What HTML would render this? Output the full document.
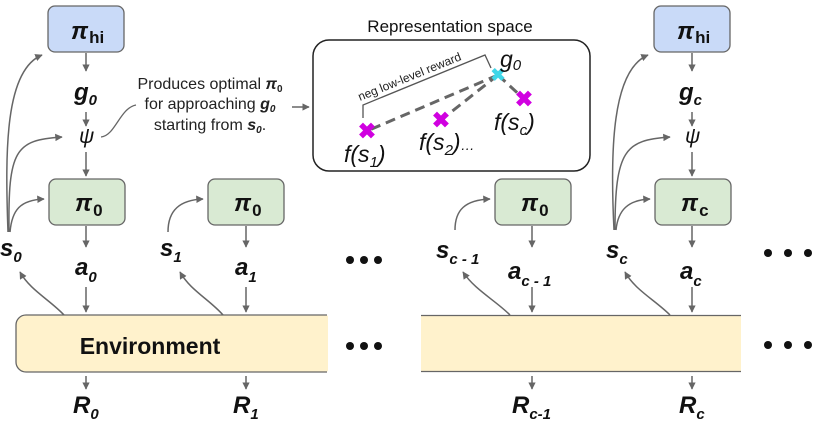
<!DOCTYPE html>
<html><head><meta charset="utf-8"><style>
body{margin:0;background:#fff;width:822px;height:431px;overflow:hidden}
svg{display:block}
text{font-family:"Liberation Sans",sans-serif}
.b{font-weight:bold;font-style:italic;font-size:24px;fill:#111}
.s{font-weight:bold;font-style:italic;font-size:15px;fill:#111}
</style></head><body>
<svg width="822" height="431" viewBox="0 0 822 431">
<defs><marker id="a" viewBox="0 0 10 10" refX="9" refY="5" markerWidth="5" markerHeight="5" orient="auto"><path d="M0,0L10,5L0,10z" fill="#666"/></marker></defs>
<g stroke="#666" stroke-width="1.5" fill="none" marker-end="url(#a)">
<path d="M86,53V71"/><path d="M86,112V126"/><path d="M86,152V176"/><path d="M86,226V247"/><path d="M86,287V312"/><path d="M86,376V389"/>
<path d="M8,232C5,150 5,70 42,55"/><path d="M9,232C8,150 15,140 62,137"/><path d="M10,232C12,210 20,200 44,199"/>
<path d="M64,315C50,300 30,290 20,272"/>
<path d="M246,226V247"/><path d="M246,287V312"/><path d="M246,376V389"/>
<path d="M168,232C168,210 180,200 203,199"/><path d="M223,315C210,300 190,290 180,272"/>
<path d="M532,226V247"/><path d="M532,287V312"/><path d="M532,376V389"/>
<path d="M455,230C455,210 465,200 490,199"/><path d="M510,315C495,300 475,290 463,272"/>
<path d="M692,53V71"/><path d="M692,112V126"/><path d="M692,152V176"/><path d="M692,226V247"/><path d="M692,287V312"/><path d="M692,376V389"/>
<path d="M614,230C610,150 612,70 648,55"/><path d="M615,230C615,150 625,140 670,137"/><path d="M616,230C618,210 628,200 650,199"/>
<path d="M670,315C655,300 635,290 625,272"/>
<path d="M292,107H309"/>
</g>
<path d="M101,137C115,136 120,108 136,105" stroke="#666" stroke-width="1.3" fill="none"/>
<rect x="48" y="6" width="76" height="46" rx="7" fill="#c9daf8" stroke="#666" stroke-width="1.3"/>
<rect x="654" y="6" width="76" height="46" rx="7" fill="#c9daf8" stroke="#666" stroke-width="1.3"/>
<rect x="49" y="179" width="76" height="46" rx="7" fill="#d9ead3" stroke="#666" stroke-width="1.3"/>
<rect x="208" y="179" width="76" height="46" rx="7" fill="#d9ead3" stroke="#666" stroke-width="1.3"/>
<rect x="495" y="179" width="76" height="46" rx="7" fill="#d9ead3" stroke="#666" stroke-width="1.3"/>
<rect x="655" y="179" width="76" height="46" rx="7" fill="#d9ead3" stroke="#666" stroke-width="1.3"/>
<path d="M327,315H26A10,10 0 0 0 16,325V362A10,10 0 0 0 26,372H327" fill="#fff2cc" stroke="#666" stroke-width="1.3"/>
<rect x="327" y="315.7" width="1" height="55.6" fill="#fff2cc"/>
<rect x="421" y="316" width="320" height="56" fill="#fff2cc"/>
<path d="M421,315.5H741M421,371.5H741" stroke="#666" stroke-width="1.3"/>
<text x="150" y="354" font-size="23" font-weight="bold" text-anchor="middle" fill="#111">Environment</text>
<g fill="#111"><circle cx="350" cy="260" r="4"/><circle cx="364" cy="260" r="4"/><circle cx="378" cy="260" r="4"/>
<circle cx="350" cy="346" r="4"/><circle cx="364" cy="346" r="4"/><circle cx="378" cy="346" r="4"/>
<circle cx="768" cy="253" r="4"/><circle cx="788" cy="253" r="4"/><circle cx="808" cy="253" r="4"/>
<circle cx="768" cy="345" r="4"/><circle cx="788" cy="345" r="4"/><circle cx="808" cy="345" r="4"/></g>
<text x="71" y="39" class="b">π<tspan class="s" style="font-style:normal;font-size:17px" dx="1" dy="4">hi</tspan></text>
<text x="677" y="39" class="b">π<tspan class="s" style="font-style:normal;font-size:17px" dx="1" dy="4">hi</tspan></text>
<text x="75" y="211" class="b">π<tspan class="s" style="font-style:normal;font-size:17px" dx="1" dy="5">0</tspan></text>
<text x="234" y="211" class="b">π<tspan class="s" style="font-style:normal;font-size:17px" dx="1" dy="5">0</tspan></text>
<text x="521" y="211" class="b">π<tspan class="s" style="font-style:normal;font-size:17px" dx="1" dy="5">0</tspan></text>
<text x="681" y="211" class="b">π<tspan class="s" style="font-style:normal;font-size:17px" dx="1" dy="5">c</tspan></text>
<text x="74" y="100" class="b">g<tspan class="s" dy="5">0</tspan></text>
<text x="679" y="100" class="b">g<tspan class="s" dy="5">c</tspan></text>
<text x="79" y="143" font-size="21" font-style="italic" fill="#111">ψ</text>
<text x="685" y="143" font-size="21" font-style="italic" fill="#111">ψ</text>
<text x="0" y="256" class="b">s<tspan class="s" dy="6">0</tspan></text>
<text x="160" y="256" class="b">s<tspan class="s" dy="6">1</tspan></text>
<text x="436" y="258" class="b">s<tspan class="s" dy="6">c - 1</tspan></text>
<text x="606" y="258" class="b">s<tspan class="s" dy="6">c</tspan></text>
<text x="75" y="275" class="b">a<tspan class="s" dy="7">0</tspan></text>
<text x="235" y="275" class="b">a<tspan class="s" dy="7">1</tspan></text>
<text x="508" y="279" class="b">a<tspan class="s" dy="7">c - 1</tspan></text>
<text x="680" y="279" class="b">a<tspan class="s" dy="7">c</tspan></text>
<text x="73" y="413" class="b">R<tspan class="s" dy="6">0</tspan></text>
<text x="233" y="413" class="b">R<tspan class="s" dy="6">1</tspan></text>
<text x="512" y="413" class="b">R<tspan class="s" dy="6">c-1</tspan></text>
<text x="679" y="413" class="b">R<tspan class="s" dy="6">c</tspan></text>
<g font-size="16" fill="#222" text-anchor="middle">
<text x="210" y="89">Produces optimal <tspan font-weight="bold" font-style="italic">π</tspan><tspan font-size="10" font-weight="bold" dy="3">0</tspan></text>
<text x="210" y="109">for approaching <tspan font-weight="bold" font-style="italic">g</tspan><tspan font-size="10" font-weight="bold" font-style="italic" dy="3">0</tspan></text>
<text x="210" y="130">starting from <tspan font-weight="bold" font-style="italic">s</tspan><tspan font-size="10" font-weight="bold" font-style="italic" dy="3">0</tspan><tspan dy="-3">.</tspan></text>
</g>
<text x="450" y="32" font-size="17" text-anchor="middle" fill="#111">Representation space</text>
<rect x="313" y="40" width="277" height="131" rx="16" fill="none" stroke="#222" stroke-width="1.5"/>
<path d="M363,118V105L485,55L491,68" fill="none" stroke="#555" stroke-width="1.3"/>
<text font-size="12" fill="#222" transform="translate(360,101) rotate(-22)">neg low-level reward</text>
<g stroke="#666" stroke-width="3" stroke-dasharray="10,6" fill="none">
<path d="M498,75L367,131"/><path d="M498,75L441,120"/><path d="M498,75L524,99"/></g>
<g font-size="22" font-weight="bold" text-anchor="middle" dominant-baseline="central">
<text x="367" y="131" fill="#d000e0">✖</text><text x="441" y="120" fill="#d000e0">✖</text><text x="524" y="99" fill="#d000e0">✖</text>
<text x="498" y="75" fill="#3fd6e8" font-size="18">✖</text></g>
<g font-size="23" font-style="italic" fill="#111">
<text x="500" y="67">g<tspan font-size="15" dy="3">0</tspan></text>
<text x="344" y="162">f(s<tspan font-size="15" dy="5">1</tspan><tspan dy="-5">)</tspan></text>
<text x="419" y="150">f(s<tspan font-size="15" dy="5">2</tspan><tspan dy="-5">)</tspan><tspan font-size="14">…</tspan></text>
<text x="494" y="130">f(s<tspan font-size="15" dy="5">c</tspan><tspan dy="-5">)</tspan></text>
</g>
</svg>
</body></html>
